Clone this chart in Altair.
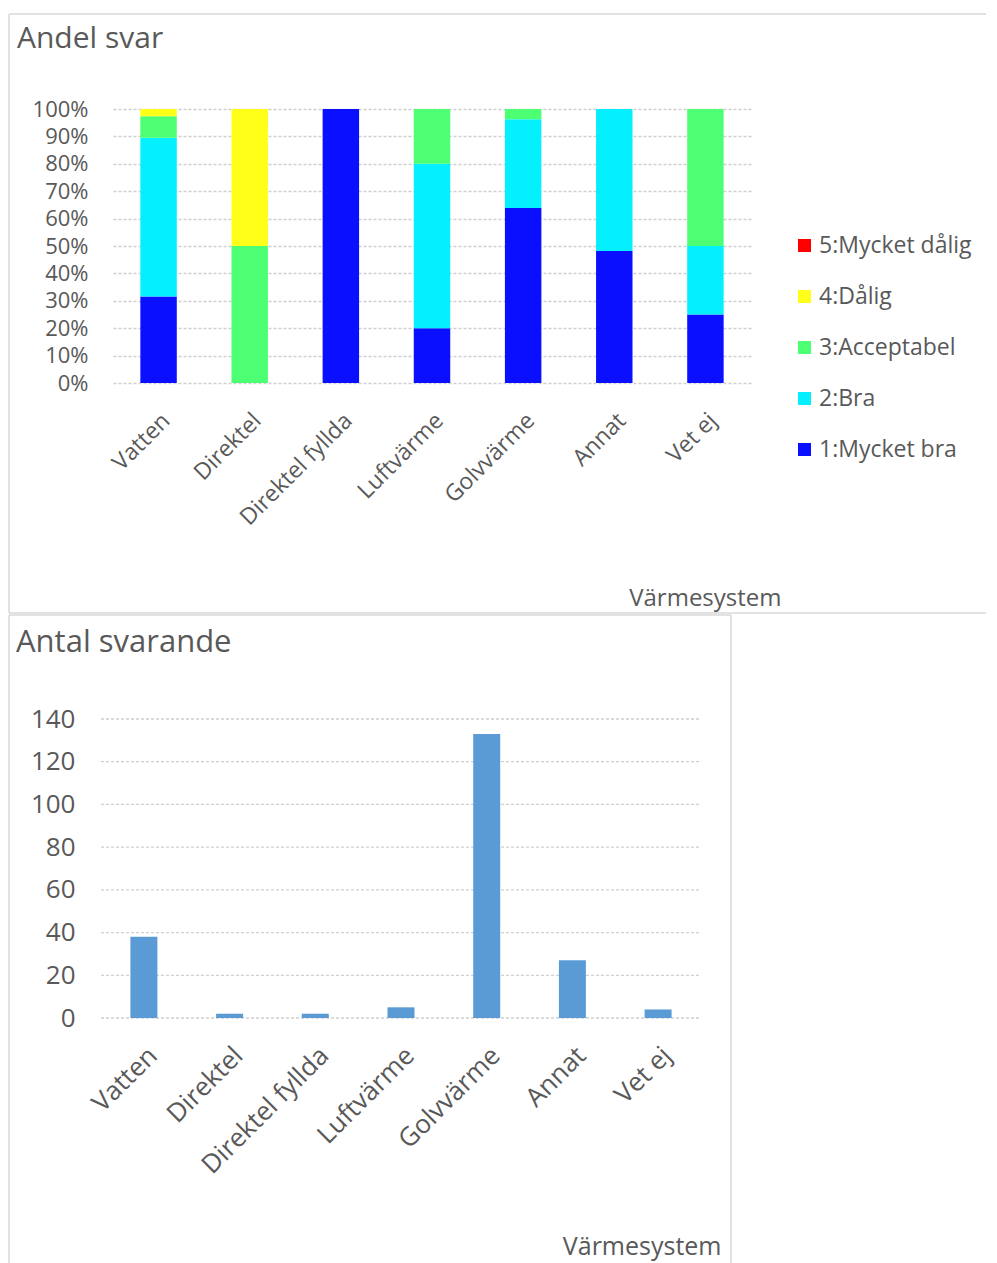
import altair as alt
import pandas as pd

# ---- data ----
systems = ["Vatten", "Direktel", "Direktel fyllda", "Luftvärme", "Golvvärme", "Annat", "Vet ej"]
ratings = ["1:Mycket bra", "2:Bra", "3:Acceptabel", "4:Dålig", "5:Mycket dålig"]
mycket_bra = [12, 0, 2, 1, 85, 13, 1]
bra = [22, 0, 0, 3, 43, 14, 1]
acceptabel = [3, 1, 0, 1, 5, 0, 2]
dalig = [1, 1, 0, 0, 0, 0, 0]
mycket_dalig = [0, 0, 0, 0, 0, 0, 0]
rating_colors = ["#0A10FF", "#05F0FF", "#4DFF73", "#FFFF1A", "#FF0000"]
pct_ticks = [0, 0.1, 0.2, 0.3, 0.4, 0.5, 0.6, 0.7, 0.8, 0.9, 1.0]
count_ticks = [0, 20, 40, 60, 80, 100, 120, 140]

rows = []
for rank, (rating, vals) in enumerate(
    zip(ratings, [mycket_bra, bra, acceptabel, dalig, mycket_dalig]), start=1
):
    for s, v in zip(systems, vals):
        rows.append({"system": s, "rating": rating, "rank": rank, "count": v})
df = pd.DataFrame(rows)
grid_df = pd.DataFrame({"tick": count_ticks})

FONT = "Open Sans"
GRAY = "#595959"
GRID = "#cfcfcf"
FRAME = "#d9d9d9"
BAR = "#5B9BD5"

one = pd.DataFrame({"k": [0]})


def frame_rule(x, x2, y, y2):
    return alt.Chart(one).mark_rule(color=FRAME, strokeWidth=1.5).encode(
        x=alt.value(x), x2=alt.value(x2), y=alt.value(y), y2=alt.value(y2)
    )


# ---------------- top chart ----------------
top_bars = alt.Chart(df).mark_bar().encode(
    x=alt.X(
        "system:N", sort=systems,
        scale=alt.Scale(paddingInner=0.6, paddingOuter=0.3),
        axis=alt.Axis(
            title="Värmesystem", labelAngle=-45, labelFontSize=23, labelFont=FONT,
            labelColor=GRAY, labelPadding=26, domain=False, ticks=False, grid=False,
            titleFont=FONT, titleFontSize=24, titleColor=GRAY, titleFontWeight="normal",
            titleX=668, titleY=215, titleAlign="right", titleBaseline="middle", titleAngle=0,
        ),
    ),
    y=alt.Y(
        "count:Q", stack="normalize",
        scale=alt.Scale(domain=[0, 1], nice=False),
        axis=alt.Axis(
            title=None, values=pct_ticks, format=".0%", labelFontSize=22, labelFont=FONT,
            labelColor=GRAY, labelPadding=25, domain=False, ticks=False, grid=True,
            gridColor=GRID, gridDash=[3, 2], gridWidth=1.3,
        ),
    ),
    color=alt.Color(
        "rating:N",
        scale=alt.Scale(domain=ratings[::-1], range=rating_colors[::-1]),
        legend=alt.Legend(
            title=None, orient="none", legendX=680, legendY=125, labelFontSize=23,
            labelFont=FONT, labelColor=GRAY, symbolType="square", symbolSize=169,
            symbolStrokeWidth=0, rowPadding=27, labelOffset=3,
        ),
    ),
    order=alt.Order("rank:Q", sort="ascending"),
)

top_title = alt.Chart(one).mark_text(
    text="Andel svar", align="left", baseline="middle", font=FONT, fontSize=30, color=GRAY
).encode(x=alt.value(-96), y=alt.value(-70))

top = alt.layer(
    frame_rule(-104, 873, -95, -95),
    frame_rule(-104, -104, -95, 504),
    frame_rule(-104, 873, 504, 504),
    top_bars,
    top_title,
).properties(width=638, height=274)

# ---------------- bottom chart ----------------
count_axis = alt.Axis(
    title=None, values=count_ticks, labelFontSize=26, labelFont=FONT,
    labelColor=GRAY, labelPadding=38, domain=False, ticks=False, grid=False,
)

# (plot origin is shared with the top chart; the band range starts 12px left of it)
bottom_grid = alt.Chart(grid_df).mark_rule(color=GRID, strokeDash=[3, 2], strokeWidth=1.3).encode(
    y=alt.Y("tick:Q", axis=count_axis),
    x=alt.value(-12),
    x2=alt.value(588),
)

bottom_bars = alt.Chart(df).mark_bar(color=BAR).encode(
    x=alt.X(
        "system:N", sort=systems,
        scale=alt.Scale(range=[-12, 588], paddingInner=0.685, paddingOuter=0.343),
        axis=alt.Axis(
            title="Värmesystem", labelAngle=-45, labelFontSize=26, labelFont=FONT,
            labelColor=GRAY, labelPadding=24, domain=False, ticks=False, grid=False,
            titleFont=FONT, titleFontSize=25, titleColor=GRAY, titleFontWeight="normal",
            titleX=608, titleY=228, titleAlign="right", titleBaseline="middle", titleAngle=0,
        ),
    ),
    y=alt.Y(
        "sum(count):Q",
        scale=alt.Scale(domain=[0, 140], nice=False),
        axis=count_axis,
    ),
)

bottom_title = alt.Chart(one).mark_text(
    text="Antal svarande", align="left", baseline="middle", font=FONT, fontSize=31, color=GRAY
).encode(x=alt.value(-97), y=alt.value(-76))

bottom = alt.layer(
    frame_rule(-104, 618, -104, -104),
    frame_rule(-104, -104, -104, 560),
    frame_rule(618, 618, -104, 560),
    bottom_grid,
    bottom_bars,
    bottom_title,
).properties(width=588, height=299)

chart = (
    alt.concat(top, bottom, columns=1, spacing=0, align="none", bounds="full")
    .properties(padding={"left": 0, "top": 5, "right": 0, "bottom": 0})
    .configure_view(strokeWidth=0)
)

chart.save("out.html", embed_options={"renderer": "svg", "actions": False})
